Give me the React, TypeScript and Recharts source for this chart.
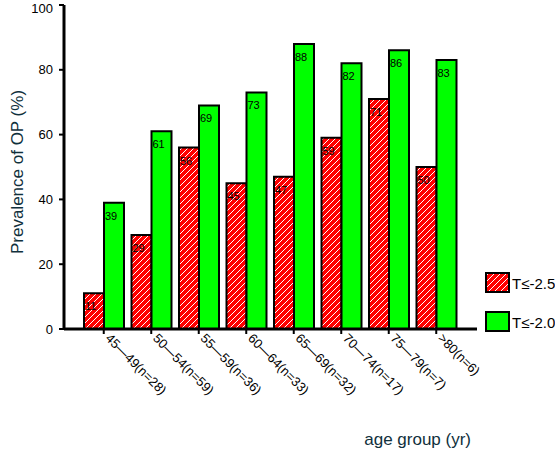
import { BarChart, Bar, XAxis, YAxis, Legend, LabelList, Label } from 'recharts'

const categories = ['45—49(n=28)', '50—54(n=59)', '55—59(n=36)', '60—64(n=33)', '65—69(n=32)', '70—74(n=17)', '75—79(n=7)', '>80(n=6)']
const seriesNames = ['T≤-2.5', 'T≤-2.0']
const t25 = [11, 29, 56, 45, 47, 59, 71, 50]
const t20 = [39, 61, 69, 73, 88, 82, 86, 83]
const yTicks = [0, 20, 40, 60, 80, 100]

const data = categories.map((c, i) => ({ group: c, t25: t25[i], t20: t20[i] }))

const FONT = '"Liberation Sans", Arial, sans-serif'
const TITLE_COLOR = '#10303c'

// rotated category labels under the x axis
function AgeTick(props: any) {
  const { x, y, payload } = props
  return (
    <g transform={`translate(${x + 3},${y + 1})`}>
      <text x={0} y={0} dy={3} transform="rotate(45)" textAnchor="start" fontSize={13} fill="#000">
        {payload.value}
      </text>
    </g>
  )
}

// value printed at the upper left inside each bar
function BarValue(props: any) {
  const { x, y, value } = props
  return (
    <text x={Number(x) + 1} y={Number(y) + 17} fontSize={11} fill="#000">
      {value}
    </text>
  )
}

function YTitle(props: any) {
  const { viewBox } = props
  const cy = viewBox.y + viewBox.height / 2 + 5
  return (
    <text x={17} y={cy} transform={`rotate(-90, 17, ${cy})`} textAnchor="middle" dominantBaseline="central" fontSize={17} fill={TITLE_COLOR}>
      Prevalence of OP (%)
    </text>
  )
}

function LegendBox(props: any) {
  const items = [...(props.payload || [])].sort(
    (a: any, b: any) => seriesNames.indexOf(a.value) - seriesNames.indexOf(b.value)
  )
  return (
    <svg width={76} height={64} style={{ display: 'block' }}>
      <defs>
        <pattern id="hatchLegend" width={6} height={6} patternUnits="userSpaceOnUse">
          <rect width={6} height={6} fill="#ff0000" />
          <path d="M0,6 L6,0 M-1,1 L1,-1 M5,7 L7,5" stroke="#fff" strokeWidth={1} />
        </pattern>
      </defs>
      {items.map((entry: any, i: number) => {
        const top = 2 + i * 39
        const fill = String(entry.color).startsWith('url') ? 'url(#hatchLegend)' : entry.color
        return (
          <g key={entry.value}>
            <rect x={7} y={top} width={23} height={19} fill={fill} stroke="#000" strokeWidth={2} />
            <text x={33} y={top + 10} dominantBaseline="central" fontSize={15} fill="#000">
              {entry.value}
            </text>
          </g>
        )
      })}
    </svg>
  )
}

export default function App() {
  return (
    <div style={{ position: 'absolute', left: 0, top: 0, width: 556, height: 451, background: '#fff', fontFamily: FONT }}>
      <BarChart
        width={556}
        height={451}
        data={data}
        margin={{ top: 5, right: 79, bottom: 0, left: 0 }}
        barCategoryGap={4}
        barGap={0}
      >
        <defs>
          <pattern id="hatch" width={6} height={6} patternUnits="userSpaceOnUse">
            <rect width={6} height={6} fill="#ff0000" />
            <path d="M0,6 L6,0 M-1,1 L1,-1 M5,7 L7,5" stroke="#fff" strokeWidth={1} />
          </pattern>
        </defs>
        <XAxis
          dataKey="group"
          height={122}
          padding={{ left: 16, right: 17 }}
          interval={0}
          tick={<AgeTick />}
          tickSize={5}
          axisLine={{ stroke: '#000', strokeWidth: 3 }}
          tickLine={{ stroke: '#000', strokeWidth: 2 }}
        >
          <Label value="age group (yr)" position="insideBottomRight" offset={6} fontSize={17} fill={TITLE_COLOR} />
        </XAxis>
        <YAxis
          width={64}
          domain={[0, 100]}
          ticks={yTicks}
          tickSize={5}
          tickMargin={6}
          tick={{ fontSize: 13, fill: '#000' }}
          axisLine={{ stroke: '#000', strokeWidth: 3 }}
          tickLine={{ stroke: '#000', strokeWidth: 2 }}
        >
          <Label content={<YTitle />} />
        </YAxis>
        <Legend
          layout="horizontal"
          verticalAlign="middle"
          align="center"
          content={<LegendBox />}
          wrapperStyle={{ left: 479, top: 271, right: 'auto', bottom: 'auto', width: 77, height: 64 }}
        />
        <Bar dataKey="t25" name={seriesNames[0]} fill="url(#hatch)" stroke="#000" strokeWidth={2} isAnimationActive={false}>
          <LabelList dataKey="t25" content={<BarValue />} />
        </Bar>
        <Bar dataKey="t20" name={seriesNames[1]} fill="#00ff00" stroke="#000" strokeWidth={2} isAnimationActive={false}>
          <LabelList dataKey="t20" content={<BarValue />} />
        </Bar>
      </BarChart>
    </div>
  )
}
